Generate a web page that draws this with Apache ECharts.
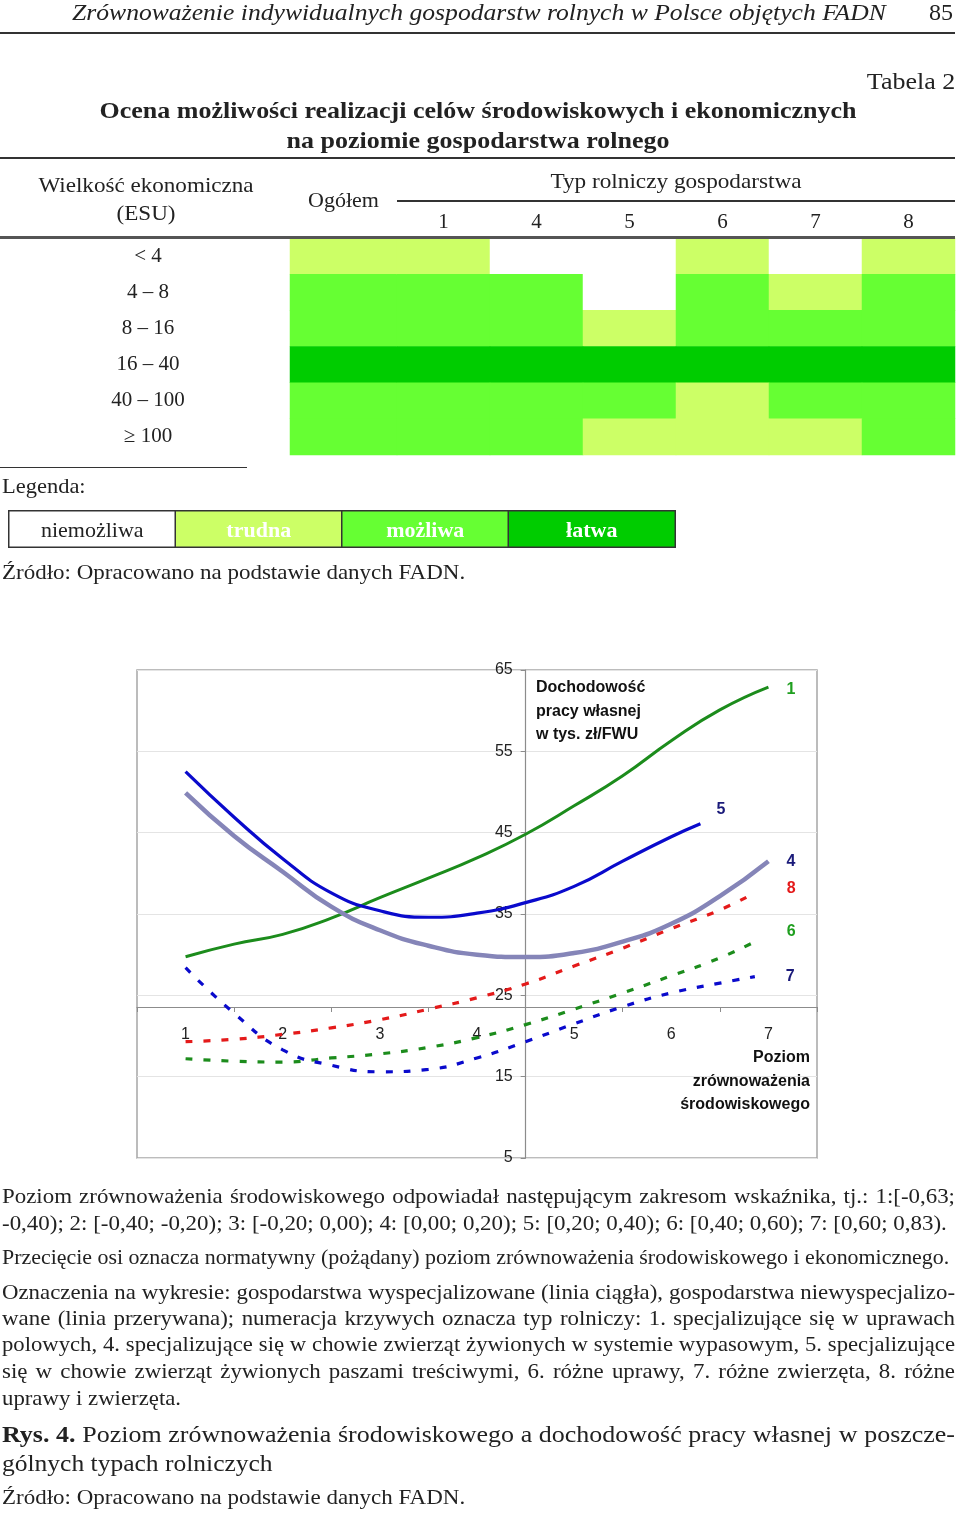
<!DOCTYPE html>
<html><head><meta charset="utf-8">
<script src="https://cdn.jsdelivr.net/npm/echarts@6/dist/echarts.min.js"></script>
<style>
html,body{margin:0;padding:0;background:#fff;}
#page{position:relative;width:960px;height:1513px;overflow:hidden;font-family:"Liberation Serif","Times New Roman",serif;color:#222;}
#chart{position:absolute;left:0;top:0;width:960px;height:1513px;}
#txt{position:absolute;left:0;top:0;width:960px;height:1513px;pointer-events:none;}
.t{position:absolute;white-space:nowrap;line-height:1;transform-origin:0 50%;}
.c{transform-origin:50% 50%;}
.rule{position:absolute;background:#333;}
.jl{position:absolute;left:2px;width:874px;font-size:21px;line-height:26px;text-align:justify;text-align-last:justify;transform:scaleX(1.09);transform-origin:0 0;}
.nl{position:absolute;left:2px;font-size:21px;line-height:26px;white-space:nowrap;transform-origin:0 0;}
</style></head>
<body>
<div id="page">
<div id="chart"></div>
<div id="txt">
  <div class="t" style="left:72px;top:0px;font-size:24px;font-style:italic;transform:scaleX(1.068);">Zrównoważenie indywidualnych gospodarstw rolnych w Polsce objętych FADN</div>
  <div class="t" style="left:929px;top:0px;font-size:24px;">85</div>
  <div class="rule" style="left:0;top:32px;width:955px;height:1.5px;"></div>
  <div class="t" style="right:5px;top:70px;font-size:23px;transform:scaleX(1.13);transform-origin:100% 50%;">Tabela 2</div>
  <div class="t c" style="left:478px;top:99px;font-size:23px;font-weight:bold;transform:translateX(-50%) scaleX(1.13);">Ocena możliwości realizacji celów środowiskowych i ekonomicznych</div>
  <div class="t c" style="left:478px;top:129px;font-size:23px;font-weight:bold;transform:translateX(-50%) scaleX(1.13);">na poziomie gospodarstwa rolnego</div>
  <div class="rule" style="left:0;top:157px;width:955px;height:2px;"></div>
  <div class="t c" style="left:146px;top:175px;font-size:21px;transform:translateX(-50%) scaleX(1.1);">Wielkość ekonomiczna</div>
  <div class="t c" style="left:146px;top:203px;font-size:21px;transform:translateX(-50%) scaleX(1.1);">(ESU)</div>
  <div class="t c" style="left:676px;top:171px;font-size:21px;transform:translateX(-50%) scaleX(1.106);">Typ rolniczy gospodarstwa</div>
  <div class="rule" style="left:397px;top:200px;width:558px;height:1.5px;"></div>
  <div class="rule" style="left:0;top:236px;width:955px;height:2.5px;background:#555;"></div>
  <div class="rule" style="left:0;top:467px;width:247px;height:1.2px;"></div>
  <div class="t" style="left:2px;top:476px;font-size:21px;transform:scaleX(1.07);">Legenda:</div>
  <div class="t" style="left:2px;top:562px;font-size:21px;transform:scaleX(1.095);">Źródło: Opracowano na podstawie danych FADN.</div>

  <div class="jl" style="top:1183px;">Poziom zrównoważenia środowiskowego odpowiadał następującym zakresom wskaźnika, tj.: 1:[-0,63;</div>
  <div class="nl" style="top:1210px;transform:scaleX(1.093);">-0,40); 2: [-0,40; -0,20); 3: [-0,20; 0,00); 4: [0,00; 0,20); 5: [0,20; 0,40); 6: [0,40; 0,60); 7: [0,60; 0,83).</div>
  <div class="nl" style="top:1244px;transform:scaleX(1.044);">Przecięcie osi oznacza normatywny (pożądany) poziom zrównoważenia środowiskowego i ekonomicznego.</div>
  <div class="jl" style="top:1279px;">Oznaczenia na wykresie: gospodarstwa wyspecjalizowane (linia ciągła), gospodarstwa niewyspecjalizo-</div>
  <div class="jl" style="top:1305px;">wane (linia przerywana); numeracja krzywych oznacza typ rolniczy: 1. specjalizujące się w uprawach</div>
  <div class="jl" style="top:1331px;">polowych, 4. specjalizujące się w chowie zwierząt żywionych w systemie wypasowym, 5. specjalizujące</div>
  <div class="jl" style="top:1358px;">się w chowie zwierząt żywionych paszami treściwymi, 6. różne uprawy, 7. różne zwierzęta, 8. różne</div>
  <div class="nl" style="top:1385px;transform:scaleX(1.085);">uprawy i zwierzęta.</div>
  <div class="jl" style="top:1420px;font-size:24px;line-height:29px;"><b>Rys. 4.</b> Poziom zrównoważenia środowiskowego a dochodowość pracy własnej w poszcze-</div>
  <div class="nl" style="top:1449px;font-size:24px;line-height:29px;transform:scaleX(1.063);">gólnych typach rolniczych</div>
  <div class="nl" style="top:1484px;transform:scaleX(1.095);">Źródło: Opracowano na podstawie danych FADN.</div>
</div>
</div>
<script>
// fit justified text lines: stretch glyphs up to 9%, never wrap
document.querySelectorAll('.jl').forEach(el => {
  el.style.whiteSpace = 'nowrap';
  el.style.width = 'max-content';
  const w = el.offsetWidth;
  const s = Math.min(1.09, 951 / w);
  el.style.whiteSpace = '';
  el.style.width = (953 / s) + 'px';
  el.style.transform = 'scaleX(' + s + ')';
});

// ---- Table data (rating: 0 niemożliwa, 1 trudna, 2 możliwa, 3 łatwa)
const esuRows = ['< 4', '4 – 8', '8 – 16', '16 – 40', '40 – 100', '≥ 100'];
const farmTypes = ['1', '4', '5', '6', '7', '8'];
const ratingNames = ['niemożliwa', 'trudna', 'możliwa', 'łatwa'];
const ratingColors = ['#ffffff', '#ccff66', '#66ff33', '#00cc00'];
const ogolem = [1, 2, 2, 3, 2, 2];
const rowLt4 = [1, 0, 0, 1, 0, 1];
const row4to8 = [2, 2, 0, 2, 1, 2];
const row8to16 = [2, 2, 1, 2, 2, 2];
const row16to40 = [3, 3, 3, 3, 3, 3];
const row40to100 = [2, 2, 2, 1, 2, 2];
const rowGe100 = [2, 2, 1, 1, 1, 2];
const typeRows = [rowLt4, row4to8, row8to16, row16to40, row40to100, rowGe100];

// ---- Line chart data (x = poziom zrównoważenia, y = dochodowość w tys. zł/FWU)
const levelLabels = ['1', '2', '3', '4', '5', '6', '7'];
const xSolid = [1, 1.5, 2, 2.5, 3, 3.5, 4, 4.5, 5, 5.5, 6, 6.5, 7];
const xType5 = [1, 1.5, 2, 2.5, 3, 3.5, 4, 4.5, 5, 5.5, 6, 6.3];
const xDashed = [1, 1.5, 2, 2.5, 3, 3.5, 4, 4.5, 5, 5.5, 6, 6.5, 6.86];
const typ1 = [29.75, 31.3, 32.5, 34.5, 37.0, 39.4, 41.9, 44.8, 48.3, 52.0, 56.3, 60.1, 62.9];
const typ4 = [49.9, 44.6, 40.2, 35.9, 33.0, 31.1, 30.0, 29.7, 30.2, 31.6, 33.8, 37.2, 41.5];
const typ5 = [52.5, 46.9, 41.8, 37.6, 35.4, 34.6, 35.1, 36.4, 38.4, 41.5, 44.5, 46.1];
const typ8 = [19.3, 19.6, 20.2, 21.0, 22.0, 23.3, 24.7, 26.4, 28.6, 30.8, 33.2, 35.5, 37.6];
const typ6 = [17.2, 16.9, 16.8, 17.3, 17.8, 18.6, 19.8, 21.4, 23.3, 25.3, 27.4, 29.6, 31.6];
const typ7 = [28.4, 22.8, 18.3, 16.4, 15.6, 15.9, 17.3, 19.3, 21.5, 23.6, 25.3, 26.5, 27.3];
const yTicks = {min: 5, max: 65, step: 10};

const zip = (xs, ys) => ys.map((y, i) => [xs[i], y]);
const ogolemData = ogolem.map((v, r) => [0, r, v]);
const typeData = [];
typeRows.forEach((row, r) => row.forEach((v, c) => typeData.push([c, r, v])));
const legendData = ratingNames.map((n, i) => [i, 0, i]);

const serif = 'Liberation Serif';
const sans = 'Liberation Sans';
const hiddenAxis = {axisLine: {show: false}, axisTick: {show: false}, axisLabel: {show: false}, splitLine: {show: false}};

function lineSeries(name, data, color, width, dashed, label, off, lblColor) {
  return {
    type: 'line', name, xAxisIndex: 3, yAxisIndex: 3, data, smooth: true,
    showSymbol: false, symbol: 'none', silent: true,
    lineStyle: {color, width, type: dashed ? [7, 11] : 'solid', cap: 'butt'},
    endLabel: {show: true, formatter: label, offset: off, color: lblColor,
      fontSize: 16, fontWeight: 'bold', fontFamily: sans}
  };
}

const chart = echarts.init(document.getElementById('chart'), null, {renderer: 'canvas'});
chart.setOption({
  backgroundColor: 'transparent',
  animation: false,
  grid: [
    {left: 290, top: 238, width: 107, height: 217},
    {left: 397, top: 238, width: 558, height: 217},
    {left: 9, top: 511, width: 666, height: 36},
    {left: 137, top: 670, width: 680, height: 488, show: true, borderColor: '#a6a6a6', borderWidth: 1.5}
  ],
  xAxis: [
    {type: 'category', gridIndex: 0, data: ['Ogółem'], position: 'top',
      axisLine: {show: false}, axisTick: {show: false}, splitLine: {show: false},
      axisLabel: {margin: 26, fontSize: 22, color: '#222', fontFamily: serif}},
    {type: 'category', gridIndex: 1, data: farmTypes, position: 'top',
      axisLine: {show: false}, axisTick: {show: false}, splitLine: {show: false},
      axisLabel: {margin: 5, fontSize: 21, color: '#222', fontFamily: serif}},
    Object.assign({type: 'category', gridIndex: 2, data: ratingNames}, hiddenAxis),
    {type: 'value', gridIndex: 3, min: 0.5, max: 7.5, interval: 1, position: 'bottom', offset: -151,
      axisLine: {show: true, onZero: false, lineStyle: {color: '#8c8c8c', width: 1.2}},
      axisTick: {show: true, length: 5, lineStyle: {color: '#8c8c8c'}},
      axisLabel: {show: false}, splitLine: {show: false}},
    {type: 'category', gridIndex: 3, data: levelLabels, position: 'bottom', offset: -151, boundaryGap: true,
      axisLine: {show: false, onZero: false}, axisTick: {show: false}, splitLine: {show: false},
      axisLabel: {margin: 20, fontSize: 16, color: '#222', fontFamily: sans}}
  ],
  yAxis: [
    {type: 'category', gridIndex: 0, data: esuRows, inverse: true,
      axisLine: {show: false}, axisTick: {show: false}, splitLine: {show: false},
      axisLabel: {margin: 142, align: 'center', fontSize: 21, color: '#222', fontFamily: serif, padding: [4, 0, 0, 0]}},
    Object.assign({type: 'category', gridIndex: 1, data: esuRows, inverse: true}, hiddenAxis),
    Object.assign({type: 'category', gridIndex: 2, data: ['l']}, hiddenAxis),
    {type: 'value', gridIndex: 3, min: yTicks.min, max: yTicks.max, interval: yTicks.step,
      position: 'left', offset: -388.7,
      axisLine: {show: true, onZero: false, lineStyle: {color: '#8c8c8c', width: 1.2}},
      axisTick: {show: true, length: 5, lineStyle: {color: '#8c8c8c'}},
      axisLabel: {margin: 13, fontSize: 16, color: '#222', fontFamily: sans},
      splitLine: {show: true, lineStyle: {color: '#e4e4e4', width: 1}}}
  ],
  visualMap: {
    type: 'piecewise', show: false, dimension: 2, seriesIndex: [0, 1, 2],
    pieces: ratingColors.map((c, i) => ({value: i, color: c}))
  },
  graphic: [
    {type: 'text', left: 536, top: 676, silent: true,
      style: {text: 'Dochodowość\npracy własnej\nw tys. zł/FWU', font: 'bold 16px "Liberation Sans"', lineHeight: 23.5, fill: '#111'}},
    {type: 'text', right: 150, top: 1046, silent: true,
      style: {text: 'Poziom\nzrównoważenia\nśrodowiskowego', align: 'right', textAlign: 'right', font: 'bold 16px "Liberation Sans"', lineHeight: 23.5, fill: '#111'}}
  ],
  series: [
    {type: 'heatmap', xAxisIndex: 0, yAxisIndex: 0, data: ogolemData, silent: true, itemStyle: {borderWidth: 0}},
    {type: 'heatmap', xAxisIndex: 1, yAxisIndex: 1, data: typeData, silent: true, itemStyle: {borderWidth: 0}},
    {type: 'heatmap', xAxisIndex: 2, yAxisIndex: 2, data: legendData, silent: true,
      itemStyle: {borderColor: '#333', borderWidth: 1.5},
      label: {show: true,
        formatter: p => (p.value[2] === 0 ? '{d|' : '{w|') + ratingNames[p.value[2]] + '}',
        rich: {
          d: {color: '#222', fontSize: 22, fontFamily: serif, padding: [4, 0, 0, 0]},
          w: {color: '#ffffff', fontSize: 22, fontWeight: 'bold', fontFamily: serif, padding: [4, 0, 0, 0]}
        }}},
    lineSeries('typ 1', zip(xSolid, typ1), '#1c8c1c', 3, false, '1', [10, 3], '#1f9f1f'),
    lineSeries('typ 4', zip(xSolid, typ4), '#8585b8', 4.5, false, '4', [10, 0], '#1a1a7a'),
    lineSeries('typ 5', zip(xType5, typ5), '#0a0acc', 3.2, false, '5', [8, -14], '#1a1a7a'),
    lineSeries('typ 8', zip(xDashed, typ8), '#e41a1a', 3.2, true, '8', [24, -4], '#e41a1a'),
    lineSeries('typ 6', zip(xDashed, typ6), '#1c8c1c', 3.2, true, '6', [24, -10], '#1f9f1f'),
    lineSeries('typ 7', zip(xDashed, typ7), '#0a0acc', 3.2, true, '7', [23, 0], '#1a1a7a')
  ]
});
</script>
</body></html>
